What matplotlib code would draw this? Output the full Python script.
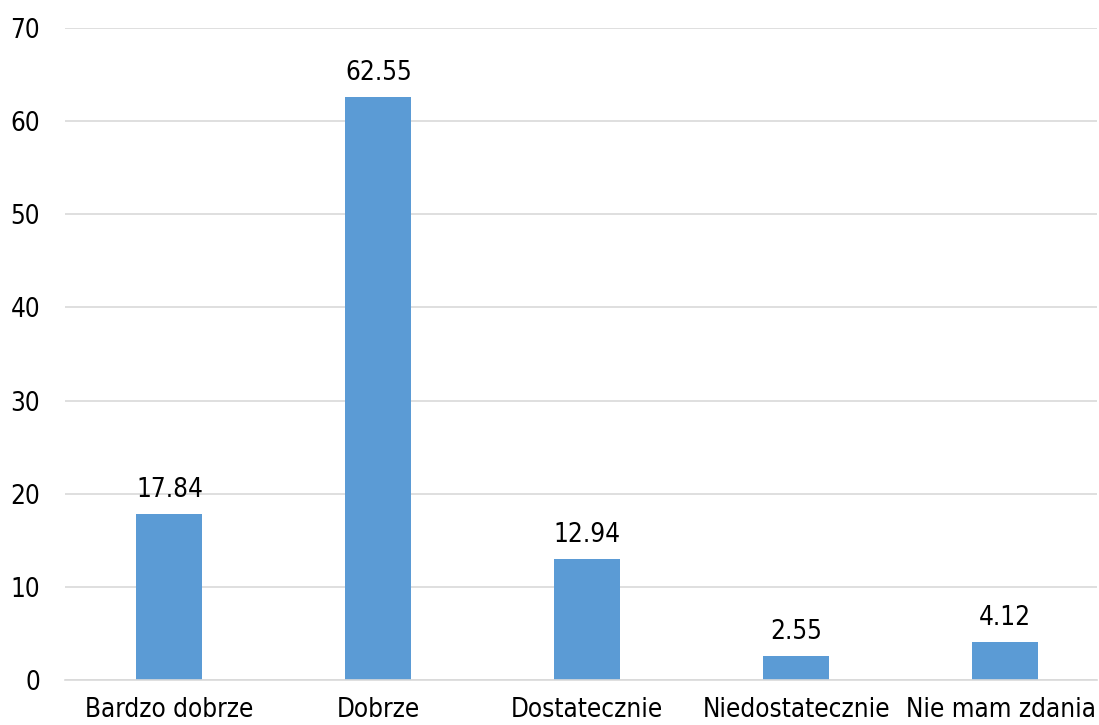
import matplotlib
matplotlib.use("Agg")
import matplotlib.pyplot as plt
from matplotlib.transforms import ScaledTranslation

categories = ["Bardzo dobrze", "Dobrze", "Dostatecznie", "Niedostatecznie", "Nie mam zdania"]
values = [17.84, 62.55, 12.94, 2.55, 4.12]
yticks = [0, 10, 20, 30, 40, 50, 60, 70]

plt.rcParams['font.family'] = ['DejaVu Sans']
plt.rcParams['font.stretch'] = 'condensed'
FS = 18.7

fig = plt.figure(figsize=(10.99, 7.25), dpi=100)
ax = fig.add_axes([65 / 1099, 45 / 725, 1032 / 1099, 652 / 725])

x = list(range(len(categories)))
ax.bar(x, values, width=0.316, color="#5B9BD5", zorder=3)

for xi, v in zip(x, values):
    ax.annotate(f"{v:.2f}", (xi, v), xytext=(0, 12.3), textcoords="offset points",
                ha="center", va="baseline", fontsize=FS)

ax.set_xlim(-0.5, 4.44)
ax.set_ylim(0, 70)
ax.set_yticks(yticks)
ax.set_xticks(x)
ax.set_xticklabels(categories, fontsize=FS)
ax.tick_params(axis="y", labelsize=FS, length=0, pad=18)
ax.tick_params(axis="x", length=0, pad=12.3)

# last label sits a little left so it fits inside the figure
last = ax.get_xticklabels()[-1]
last.set_transform(last.get_transform() + ScaledTranslation(-4 / 100, 0, fig.dpi_scale_trans))

ax.grid(axis="y", color="#D9D9D9", linewidth=1.2, zorder=0)
for s in ["top", "right", "left"]:
    ax.spines[s].set_visible(False)
ax.spines["bottom"].set_color("#D9D9D9")
ax.spines["bottom"].set_linewidth(1.2)
ax.spines["bottom"].set_zorder(4)

fig.savefig("out.png", dpi=100)
